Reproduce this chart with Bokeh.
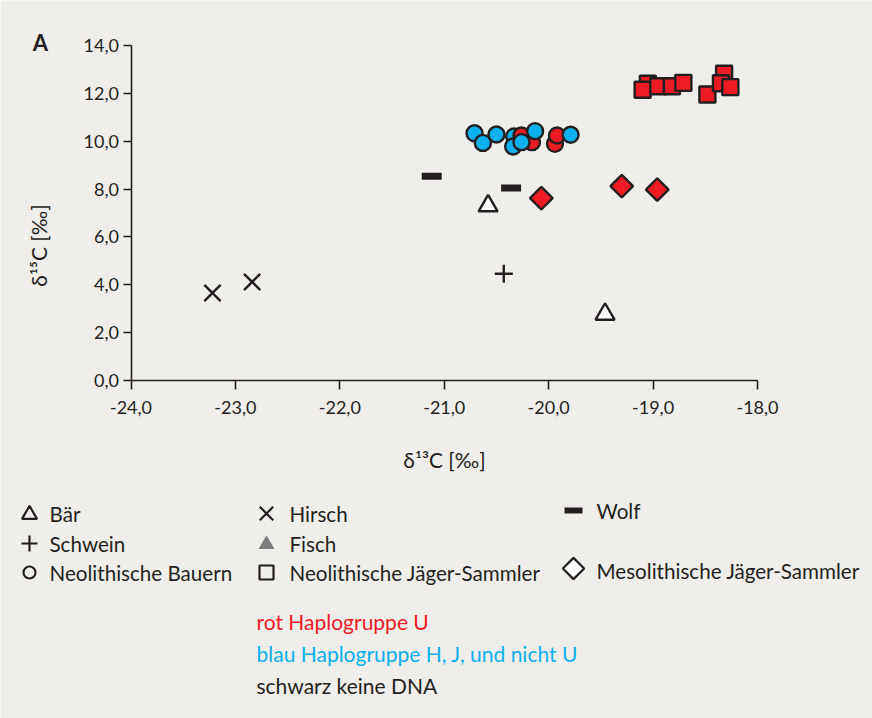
import math
from bokeh.plotting import figure
from bokeh.models import Range1d, FixedTicker, Label, ColumnDataSource
from bokeh.transform import factor_cmap
from bokeh.core.properties import value
from bokeh.embed import file_html
from bokeh.resources import INLINE

# ---------------- data ----------------
x_ticks = [-24, -23, -22, -21, -20, -19, -18]
x_tick_labels = ["-24,0", "-23,0", "-22,0", "-21,0", "-20,0", "-19,0", "-18,0"]
y_ticks = [0, 2, 4, 6, 8, 10, 12, 14]
y_tick_labels = ["0,0", "2,0", "4,0", "6,0", "8,0", "10,0", "12,0", "14,0"]

baer_x = [-20.58, -19.46]
baer_y = [7.30, 2.77]
hirsch_x = [-23.22, -22.84]
hirsch_y = [3.66, 4.12]
schwein_x = [-20.43]
schwein_y = [4.46]
wolf_x = [-21.12, -20.36]
wolf_y = [8.54, 8.04]
meso_x = [-20.07, -19.30, -18.96]
meso_y = [7.62, 8.12, 7.98]
bauern_x = [-20.71, -20.63, -20.50, -20.33, -20.34, -20.26, -20.16, -20.26, -20.13, -19.94, -19.92, -19.79]
bauern_y = [10.33, 9.93, 10.28, 10.20, 9.78, 10.24, 9.96, 9.96, 10.42, 9.89, 10.24, 10.27]
bauern_hg = ["HJ", "HJ", "HJ", "HJ", "HJ", "U", "U", "HJ", "HJ", "U", "U", "HJ"]
jaeger_x = [-19.05, -19.10, -18.95, -18.82, -18.71, -18.48, -18.32, -18.35, -18.26]
jaeger_y = [12.40, 12.15, 12.30, 12.30, 12.44, 11.95, 12.82, 12.42, 12.26]

legend_labels = ["Bär", "Schwein", "Neolithische Bauern", "Hirsch", "Fisch",
                 "Neolithische Jäger-Sammler", "Wolf", "Mesolithische Jäger-Sammler"]
note_labels = ["rot Haplogruppe U", "blau Haplogruppe H, J, und nicht U", "schwarz keine DNA"]

# ---------------- style / layout ----------------
BG = "#efeeea"
INK = "#231f20"
RED = "#ed1c24"
BLUE = "#0cb0ec"
FONT = "Lato"

W, H = 872, 718
XMIN, XMAX, YMIN, YMAX = -24.0, -18.0, 0.0, 14.0
X0PX, X1PX = 130.5, 757.0      # pixel of XMIN / XMAX (from canvas left)
Y0PX, Y1PX = 380.0, 45.0       # pixel of YMIN / YMAX (from canvas top)
sx = (X1PX - X0PX) / (XMAX - XMIN)
sy = (Y0PX - Y1PX) / (YMAX - YMIN)


def px2x(px):
    return XMIN + (px - X0PX) / sx


def px2y(py):
    return YMIN + (Y0PX - py) / sy


p = figure(width=W, height=H,
           x_range=Range1d(px2x(0), px2x(W)), y_range=Range1d(px2y(H), px2y(0)),
           output_backend="svg", toolbar_location=None, min_border=0,
           background_fill_color=BG, border_fill_color=BG, outline_line_color=None)
p.grid.visible = False

xa, ya = p.xaxis[0], p.yaxis[0]
xa.fixed_location = YMIN
xa.bounds = (XMIN, XMAX)
ya.fixed_location = XMIN
ya.bounds = (YMIN, YMAX)
for ax in (xa, ya):
    ax.axis_line_color = INK
    ax.axis_line_width = 1.6
    ax.major_tick_line_color = INK
    ax.major_tick_line_width = 1.6
    ax.major_tick_in = 0
    ax.minor_tick_line_color = None
    ax.major_label_text_font = FONT
    ax.major_label_text_font_size = "18px"
    ax.major_label_text_color = INK
xa.ticker = FixedTicker(ticks=x_ticks)
xa.major_label_overrides = dict(zip(x_ticks, x_tick_labels))
xa.major_tick_out = 9
xa.major_label_standoff = 11
ya.ticker = FixedTicker(ticks=y_ticks)
ya.major_label_overrides = dict(zip(y_ticks, y_tick_labels))
ya.major_tick_out = 8
ya.major_label_standoff = 4

LW = 2.4
# Bär
p.scatter(baer_x, baer_y, marker="triangle", size=19, fill_color="white", line_color=INK, line_width=LW)
# Hirsch
p.scatter(hirsch_x, hirsch_y, marker="x", size=23, line_color=INK, line_width=2.4)
# Schwein
p.scatter(schwein_x, schwein_y, marker="cross", size=18, line_color=INK, line_width=2.4)
# Wolf
p.rect(wolf_x, wolf_y, width=20, height=7, width_units="screen", height_units="screen",
       fill_color=INK, line_color=None)
# Mesolithische Jäger-Sammler
p.scatter(meso_x, meso_y, marker="square", angle=math.pi / 4, size=16, fill_color=RED,
          line_color=INK, line_width=LW)
# Neolithische Bauern
src_b = ColumnDataSource(dict(x=bauern_x, y=bauern_y, hg=bauern_hg))
p.scatter("x", "y", source=src_b, marker="circle", size=16,
          fill_color=factor_cmap("hg", palette=[RED, BLUE], factors=["U", "HJ"]),
          line_color=INK, line_width=LW)
# Neolithische Jäger-Sammler
p.scatter(jaeger_x, jaeger_y, marker="square", size=16, fill_color=RED, line_color=INK, line_width=LW)

# titles (screen units: from canvas left / canvas bottom)
p.add_layout(Label(x=40, y=H - 42, x_units="screen", y_units="screen", text="A",
                   text_font=FONT, text_font_style="bold", text_font_size="22px",
                   text_color=INK, text_align="center", text_baseline="middle"))
p.add_layout(Label(x=444, y=H - 459, x_units="screen", y_units="screen", text="δ¹³C [‰]",
                   text_font=FONT, text_font_size="21px",
                   text_color=INK, text_align="center", text_baseline="middle"))
p.add_layout(Label(x=38, y=H - 245, x_units="screen", y_units="screen", text="δ¹⁵C [‰]",
                   angle=math.pi / 2, text_font=FONT, text_font_size="21px",
                   text_color=INK, text_align="center", text_baseline="middle"))

# ---------------- legend (pixel layout converted to the plot's scales) ----------------
c1, c2, c3 = 29, 266, 573
r1, r2, r3 = 513, 543, 572
p.scatter([px2x(c1)], [px2y(r1 + 1)], marker="triangle", size=15, fill_color=None, line_color=INK, line_width=2.2)
p.scatter([px2x(c1)], [px2y(r2)], marker="cross", size=16, line_color=INK, line_width=2.2)
p.scatter([px2x(c1)], [px2y(r3)], marker="circle", size=12, fill_color=None, line_color=INK, line_width=2.2)
p.scatter([px2x(c2)], [px2y(r1)], marker="x", size=19, line_color=INK, line_width=2.2)
p.scatter([px2x(c2)], [px2y(r2 + 1)], marker="triangle", size=16, fill_color="#7d7d7d", line_color=None)
p.scatter([px2x(c2)], [px2y(r3)], marker="square", size=14, fill_color=None, line_color=INK, line_width=2.2)
p.rect([px2x(c3)], [px2y(510)], width=18, height=6, width_units="screen", height_units="screen",
       fill_color=INK, line_color=None)
p.scatter([px2x(c3)], [px2y(568)], marker="square", angle=math.pi / 4, size=15, fill_color="white",
          line_color=INK, line_width=2.2)

tx = [49, 49, 49, 289, 289, 289, 596, 596]
ty = [r1, r2, r3, r1, r2, r3, 510, 570]
p.text([px2x(v) for v in tx], [px2y(v) for v in ty], text=legend_labels,
       text_font=value(FONT), text_font_size="20.6px",
       text_color=INK, text_baseline="middle", text_align="left")
p.text([px2x(256)] * 3, [px2y(v) for v in (621, 653, 685)], text=note_labels,
       text_font=value(FONT), text_font_size="21px", text_color=[RED, BLUE, INK],
       text_baseline="middle", text_align="left")

open("out.html", "w").write(file_html(p, INLINE))
